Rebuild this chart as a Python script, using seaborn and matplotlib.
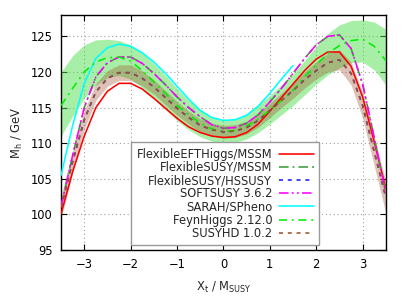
import numpy as np
import pandas as pd
import matplotlib
matplotlib.use("Agg")
import matplotlib.pyplot as plt
import seaborn as sns

# -------------------- DATA --------------------

xt = [-3.5, -3.25, -3.0, -2.75, -2.5, -2.25, -2.0, -1.75, -1.5, -1.25, -1.0,
      -0.75, -0.5, -0.25, 0.0, 0.25, 0.5, 0.75, 1.0, 1.25, 1.5, 1.75, 2.0,
      2.25, 2.5, 2.75, 3.0, 3.25, 3.5]

feft = [100.1, 106.0, 111.0, 115.0, 117.3, 118.4, 118.4, 117.6, 116.3, 114.9, 113.5,
        112.3, 111.5, 111.0, 110.8, 110.9, 111.5, 112.7, 114.5, 116.4, 118.3, 120.2, 121.8,
        122.8, 122.8, 120.8, 116.5, 110.2, 103.6]

fs_mssm = [101.1, 108.3, 115.0, 119.3, 121.3, 122.1, 122.1, 121.2, 119.8, 118.2, 116.5,
           115.0, 113.7, 112.6, 112.1, 112.2, 112.8, 114.0, 115.8, 117.7, 119.8, 121.9, 123.8,
           125.0, 125.2, 123.3, 118.3, 110.8, 103.0]

fs_hssusy = [101.0, 107.4, 113.3, 117.2, 119.1, 119.9, 119.9, 119.1, 117.9, 116.4, 114.9,
             113.6, 112.5, 111.9, 111.6, 111.7, 112.2, 113.2, 114.6, 116.0, 117.4, 118.9, 120.2,
             121.3, 121.7, 119.8, 115.3, 108.8, 102.4]

softsusy = [101.1, 108.3, 115.0, 119.3, 121.3, 122.1, 122.1, 121.2, 119.8, 118.2, 116.5,
            115.0, 113.7, 112.6, 112.1, 112.2, 112.8, 114.0, 115.8, 117.7, 119.8, 121.9, 123.8,
            125.0, 125.2, 123.3, 118.3, 110.8, 103.0]

xt_sarah = [-3.5, -3.25, -3.0, -2.75, -2.5, -2.25, -2.0, -1.75, -1.5, -1.25, -1.0,
            -0.75, -0.5, -0.25, 0.0, 0.25, 0.5, 0.75, 1.0, 1.25, 1.5]
sarah = [105.5, 112.5, 118.4, 121.9, 123.4, 123.9, 123.6, 122.7, 121.4, 119.8, 118.0,
         116.2, 114.6, 113.6, 113.2, 113.3, 113.9, 115.2, 117.0, 119.0, 120.9]

feynhiggs = [115.3, 117.7, 120.0, 121.4, 122.0, 122.1, 121.5, 120.2, 118.6, 117.0, 115.3,
             114.0, 112.8, 112.0, 111.6, 111.8, 112.4, 113.4, 114.6, 116.0, 117.4, 119.3, 121.0,
             122.6, 123.7, 124.4, 124.6, 123.6, 121.6]
fh_low = [111.0, 113.8, 116.3, 118.2, 119.2, 119.5, 119.0, 117.8, 116.3, 114.7, 113.2,
          111.9, 110.9, 110.3, 110.0, 110.1, 110.6, 111.5, 112.7, 114.0, 115.3, 116.8, 118.3,
          119.6, 120.6, 121.3, 121.4, 120.3, 118.2]
fh_high = [120.0, 122.3, 123.8, 124.5, 124.6, 124.4, 123.8, 122.7, 121.2, 119.5, 117.7,
           116.0, 114.7, 113.7, 113.2, 113.4, 114.2, 115.4, 116.7, 118.2, 119.7, 121.6, 123.6,
           125.4, 126.6, 127.2, 127.3, 127.0, 126.0]

susyhd = [101.0, 107.4, 113.3, 117.2, 119.1, 119.9, 119.9, 119.1, 117.9, 116.4, 114.9,
          113.6, 112.5, 111.9, 111.6, 111.7, 112.2, 113.2, 114.6, 116.0, 117.4, 118.9, 120.2,
          121.3, 121.7, 119.8, 115.3, 108.8, 102.4]
hd_low = [99.4, 105.9, 112.0, 116.0, 118.0, 118.8, 118.8, 118.05, 116.9, 115.4, 113.95,
          112.7, 111.6, 111.0, 110.7, 110.8, 111.3, 112.25, 113.6, 115.0, 116.3, 117.75, 119.0,
          120.0, 120.3, 118.2, 113.5, 106.8, 100.2]
hd_high = [102.6, 108.9, 114.6, 118.4, 120.2, 121.0, 121.0, 120.15, 118.9, 117.4, 115.85,
           114.5, 113.4, 112.8, 112.5, 112.6, 113.1, 114.15, 115.6, 117.0, 118.5, 120.05, 121.4,
           122.6, 123.1, 121.4, 117.1, 110.8, 104.6]

xticks = [-3, -2, -1, 0, 1, 2, 3]
yticks = [95, 100, 105, 110, 115, 120, 125]

# -------------------- PLOT --------------------

sns.set_theme(style="ticks")
plt.rcParams["font.family"] = ["DejaVu Sans"]
plt.rcParams["mathtext.fontset"] = "dejavusans"

fig = plt.figure(figsize=(4.07, 3.05), dpi=100)
ax = fig.add_axes([0.150, 0.180, 0.798, 0.771])

# uncertainty bands
ax.fill_between(xt, fh_low, fh_high, color="#50e050", alpha=0.5, lw=0, zorder=1)
ax.fill_between(xt, hd_low, hd_high, color="#a0522d", alpha=0.35, lw=0, zorder=2)

series = [
    ("FlexibleEFTHiggs/MSSM", xt, feft, "#ff0000", "-"),
    ("FlexibleSUSY/MSSM", xt, fs_mssm, "#3c9c3c", (0, (6, 2.5, 1.2, 2.5))),
    ("FlexibleSUSY/HSSUSY", xt, fs_hssusy, "#1c1cff", (0, (2.5, 3))),
    ("SOFTSUSY 3.6.2", xt, softsusy, "#ff00ff", (0, (6, 2, 1.2, 2, 1.2, 2))),
    ("SARAH/SPheno", xt_sarah, sarah, "#00ffff", "-"),
    ("FeynHiggs 2.12.0", xt, feynhiggs, "#00ee00", (0, (5, 3, 1.2, 3))),
    ("SUSYHD 1.0.2", xt, susyhd, "#a0522d", (0, (2.5, 3))),
]

for i, (name, xs, ys, col, ls) in enumerate(series):
    sns.lineplot(x=xs, y=ys, ax=ax, color=col, linestyle=ls, lw=1.15,
                 label=name, zorder=3 + i)

ax.set_xlim(-3.5, 3.5)
ax.set_ylim(95, 128)
ax.set_xticks(xticks)
ax.set_yticks(yticks)
ax.grid(True, color="#a0a0a0", linestyle=(0, (1, 2.5)), lw=0.8)
ax.tick_params(direction="in", length=4, width=0.8, top=True, right=True,
               labelsize=8.3, colors="black", pad=6)
for s in ax.spines.values():
    s.set_color("black")
    s.set_linewidth(1.0)

ax.set_xlabel("X$_\\mathregular{t}$ / M$_\\mathregular{SUSY}$", fontsize=8.3, labelpad=6)
ax.set_ylabel("M$_\\mathregular{h}$ / GeV", fontsize=8.3, labelpad=4)

handles, labels = ax.get_legend_handles_labels()
leg = ax.legend(handles, labels, markerfirst=False, loc="lower right",
                bbox_to_anchor=(0.794, 0.021), fontsize=8.3, frameon=True,
                fancybox=False, framealpha=1, edgecolor="#999999",
                handlelength=3.0, handletextpad=0.6, labelspacing=0.02,
                borderpad=0.45, borderaxespad=0)
leg.get_frame().set_linewidth(1.0)
leg.set_zorder(20)

fig.savefig("out.png", dpi=100)
